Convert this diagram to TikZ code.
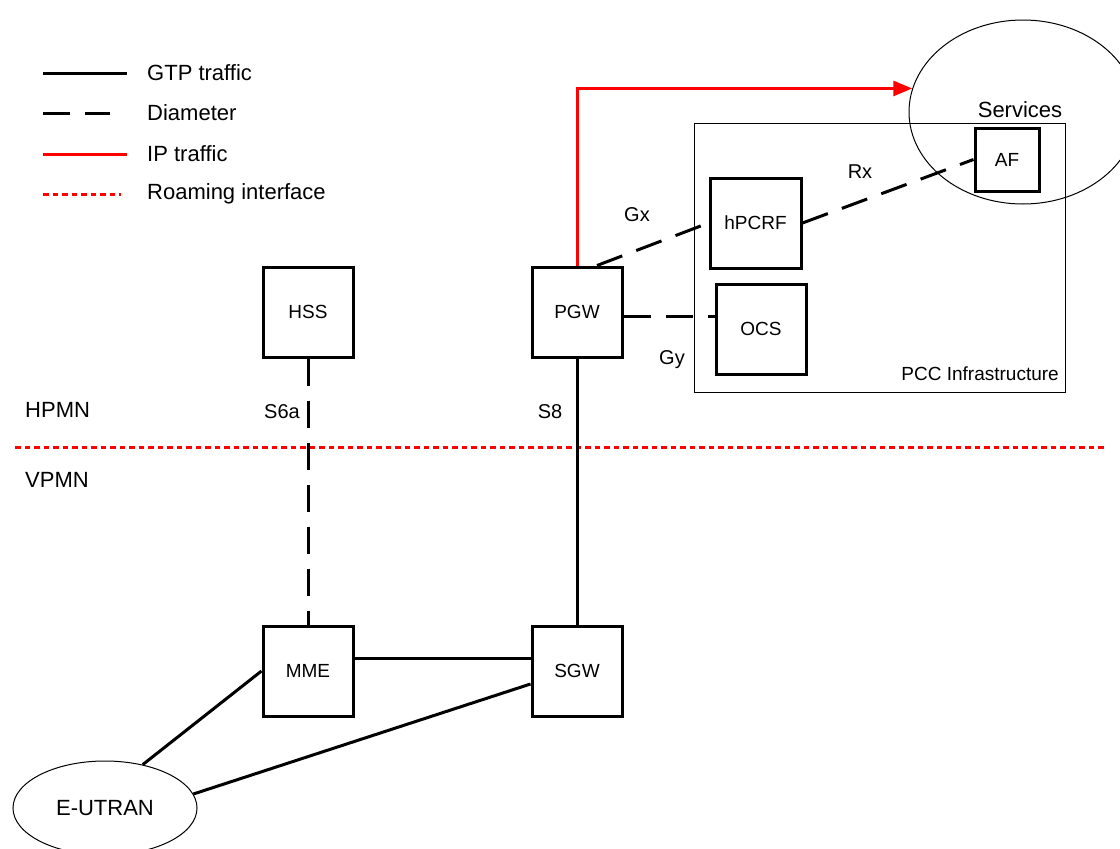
\documentclass[tikz,border=0pt]{standalone}
\usepackage{fontspec}
\setmainfont{Liberation Sans}
\usetikzlibrary{shapes.geometric,arrows.meta}
\tikzset{
  box/.style={draw, line width=3pt, minimum width=90pt, minimum height=90pt, inner sep=0pt, font=\fontsize{19}{22}\selectfont},
  lbl/.style={inner sep=0pt, font=\fontsize{20}{24}\selectfont},
  biglbl/.style={inner sep=0pt, font=\fontsize{22}{26}\selectfont},
  gtp/.style={line width=3pt},
  diam/.style={line width=3pt, dash pattern=on 27pt off 15pt},
  iptraffic/.style={line width=3pt, red},
  roam/.style={line width=3pt, red, dash pattern=on 5.5pt off 4pt},
  thin/.style={line width=1pt}
}
\begin{document}
\begin{tikzpicture}[x=1pt,y=-1pt]
\useasboundingbox (0,0) rectangle (1120,849);
% legend
\coordinate (l1a) at (43,73);  \coordinate (l1b) at (127,73);
\coordinate (l2a) at (43,113); \coordinate (l2b) at (110,113);
\coordinate (l3a) at (43,154); \coordinate (l3b) at (127,154);
\coordinate (l4a) at (43,194); \coordinate (l4b) at (121,194);
\draw[gtp] (l1a) -- (l1b);
\draw[diam] (l2a) -- (l2b);
\draw[iptraffic] (l3a) -- (l3b);
\draw[roam] (l4a) -- (l4b);
\node[biglbl, anchor=west] (t1) at (147,73) {GTP traffic};
\node[biglbl, anchor=west] (t2) at (147,113) {Diameter};
\node[biglbl, anchor=west] (t3) at (147,154) {IP traffic};
\node[biglbl, anchor=west] (t4) at (147,194) {Roaming interface};
% PCC infrastructure
\node[draw, thin, minimum width=371pt, minimum height=269pt, inner sep=0pt] (pcc) at (879.5,257.5) {};
\node[anchor=east, inner sep=0pt, font=\fontsize{19}{22}\selectfont] (pcclbl) at (1059,374) {PCC Infrastructure};
% services
\node[draw, thin, ellipse, minimum width=228pt, minimum height=184pt, inner sep=0pt] (services) at (1023,112) {};
\node[biglbl] (serviceslbl) at (1020,110) {Services};
% boxes
\node[box] (hss) at (308,312) {HSS};
\node[box] (pgw) at (577,312) {PGW};
\node[box] (mme) at (308,671) {MME};
\node[box] (sgw) at (577,671) {SGW};
\node[box, minimum width=91pt] (hpcrf) at (755.5,223) {hPCRF};
\node[box] (ocs) at (761,329) {OCS};
\node[box, minimum width=64pt, minimum height=63pt] (af) at (1007,159.5) {AF};
% E-UTRAN
\node[draw, thin, ellipse, minimum width=184pt, minimum height=94pt, inner sep=0pt, font=\fontsize{22}{26}\selectfont] (eutran) at (105,808) {E-UTRAN};
% roaming line
\coordinate (r1) at (15,447); \coordinate (r2) at (1107,447);
\draw[roam] (r1) -- (r2);
% connectors
\draw[iptraffic, -{Triangle[length=19pt,width=15pt]}] (pgw.north) |- (services.168);
\draw[diam] ([xshift=20pt]pgw.north) -- (hpcrf.west);
\draw[diam] (hpcrf.east) -- (af.west);
\draw[diam] ([yshift=-4pt]pgw.east) -- ([yshift=-4pt]pgw.east -| ocs.west);
\draw[diam] (hss.south) -- (mme.north);
\draw[gtp] (pgw.south) -- (sgw.north);
\draw[gtp] ([yshift=13pt]mme.east) -- ([yshift=13pt]sgw.west);
\draw[gtp] (eutran.49) -- (mme.west);
\draw[gtp] (eutran.9) -- ([yshift=-13pt]sgw.west);
% labels
\node[lbl] (gx) at (637,215) {Gx};
\node[lbl] (rx) at (860,172) {Rx};
\node[lbl] (gy) at (672,360) {Gy};
\node[lbl] (s6a) at (282,412) {S6a};
\node[lbl] (s8) at (550,412) {S8};
\node[biglbl, anchor=west] (hpmn) at (25,410) {HPMN};
\node[biglbl, anchor=west] (vpmn) at (25,480) {VPMN};
\end{tikzpicture}
\end{document}
